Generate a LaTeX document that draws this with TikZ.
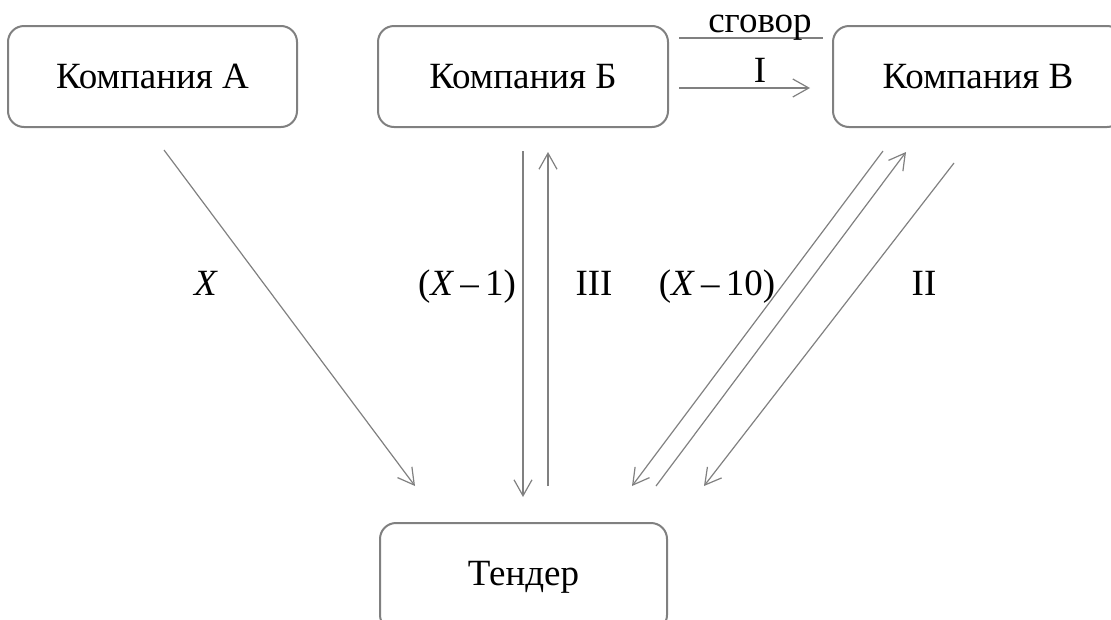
\documentclass[tikz,border=0pt]{standalone}
\usepackage{fontspec}
\setmainfont{Liberation Serif}
\usetikzlibrary{arrows.meta}
\definecolor{linegray}{RGB}{128,128,128}
\tikzset{
  box/.style={draw=linegray, line width=2pt, rounded corners=16pt, minimum height=101pt, inner sep=0pt, font=\fontsize{37}{42}\selectfont},
  conn/.style={draw=linegray, line width=1.2pt},
  arr/.style={conn, -{Straight Barb[length=16pt,width=18pt,line width=1.2pt]}},
  lbl/.style={font=\fontsize{37}{42}\selectfont, inner sep=0pt}
}
\begin{document}
\begin{tikzpicture}[x=1pt,y=-1pt]
\useasboundingbox (0,0) rectangle (1111,619);
\node[box, minimum width=289pt] (A) at (152.5,76.5) {Компания А};
\node[box, minimum width=290pt] (B) at (523,76.5) {Компания Б};
\node[box, minimum width=290pt] (V) at (978,76.5) {Компания В};
\node[box, minimum width=287pt, minimum height=108pt] (T) at (523.5,577) {Тендер};
% connector end points
\coordinate (aS) at (164,150);
\coordinate (aE) at (415,486);
\coordinate (bdS) at (523,151);
\coordinate (bdE) at (523,497);
\coordinate (buS) at (548,486);
\coordinate (buE) at (548,152);
\coordinate (v1S) at (883,151);
\coordinate (v1E) at (632,486);
\coordinate (v2S) at (656,486);
\coordinate (v2E) at (906,152);
\coordinate (v3S) at (954,163);
\coordinate (v3E) at (704,486);
\coordinate (iS) at (679,88);
\coordinate (iE) at (810,88);
\coordinate (gS) at (679,38);
\coordinate (gE) at (823,38);
\draw[arr] (aS) -- (aE);
\draw[arr] (bdS) -- (bdE);
\draw[arr] (buS) -- (buE);
\draw[arr] (v1S) -- (v1E);
\draw[arr] (v2S) -- (v2E);
\draw[arr] (v3S) -- (v3E);
\draw[arr] (iS) -- (iE);
\draw[conn] (gS) -- (gE);
% labels
\node[lbl, anchor=base] (lg) at (760,32) {сговор};
\node[lbl, anchor=base] (lI) at (760,82) {I};
\node[lbl, anchor=base] (lX) at (206,295) {\textit{X}};
\node[lbl, anchor=base] (lX1) at (467,295) {(\textit{X}\,–\,1)};
\node[lbl, anchor=base] (lIII) at (594,295) {III};
\node[lbl, anchor=base] (lX10) at (717,295) {(\textit{X}\,–\,10)};
\node[lbl, anchor=base] (lII) at (924,295) {II};
\end{tikzpicture}
\end{document}
